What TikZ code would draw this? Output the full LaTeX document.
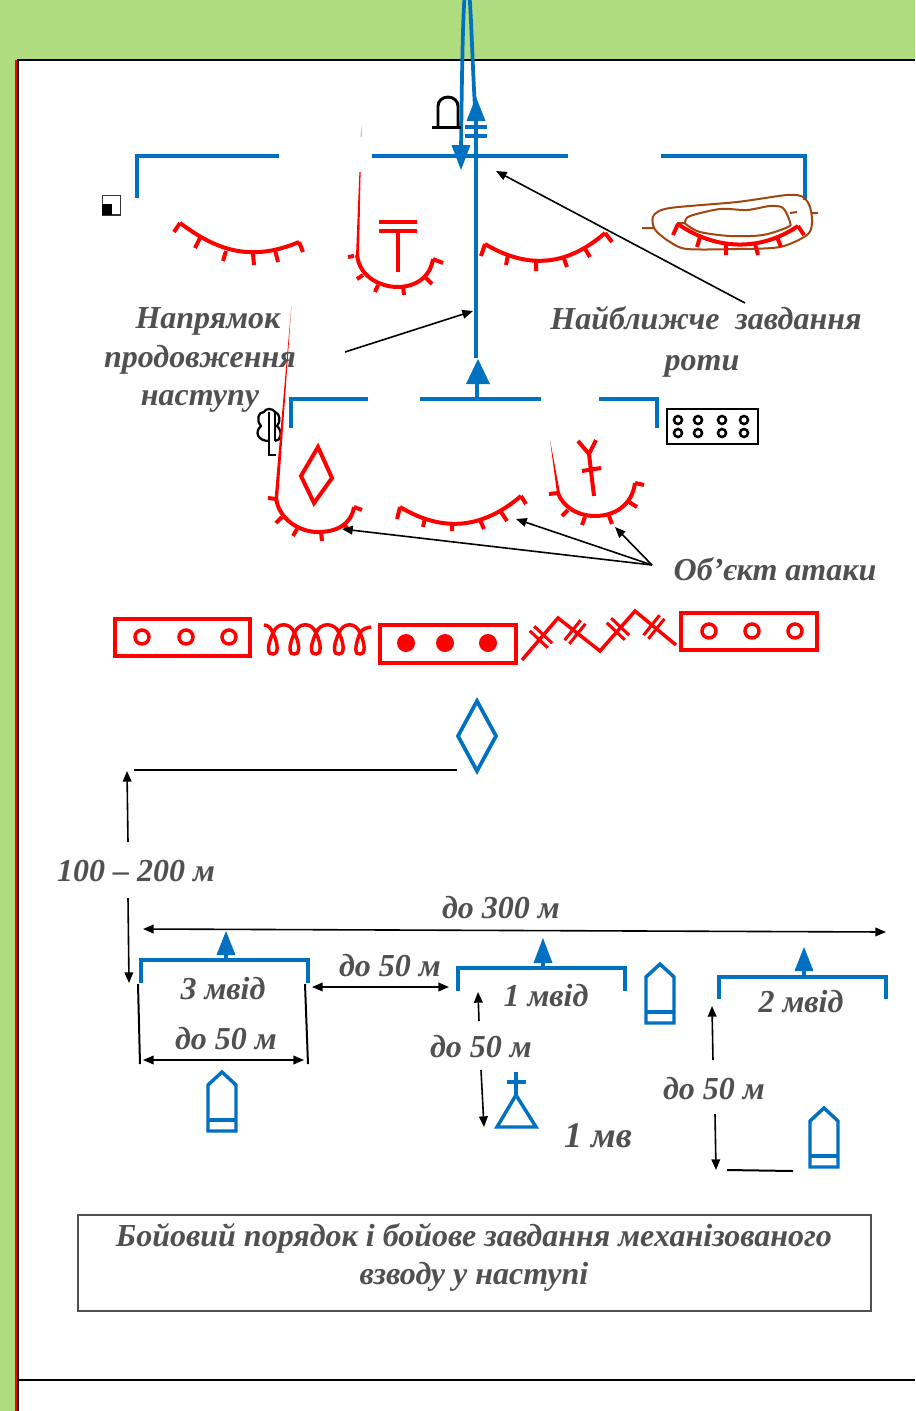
\documentclass[tikz,border=0pt]{standalone}
\usepackage{fontspec}
\setmainfont{Liberation Serif}
\usetikzlibrary{arrows.meta}
\definecolor{bg}{HTML}{AFDC7E}
\definecolor{bl}{HTML}{0070C0}
\definecolor{rd}{HTML}{FF0000}
\definecolor{br}{HTML}{A0460F}
\definecolor{tx}{HTML}{505050}
\tikzset{
 blueln/.style={draw=bl,line width=2.8pt},
 blueth/.style={draw=bl,line width=2.6pt},
 redln/.style={draw=rd,line width=3pt},
 redth/.style={draw=rd,line width=2.6pt},
 blk/.style={draw=black,line width=1.5pt},
 blkar/.style={draw=black,line width=1.2pt,-{Triangle[length=8pt,width=6.5pt]}},
 blkbi/.style={draw=black,line width=1.2pt,{Triangle[length=8pt,width=6.5pt]}-{Triangle[length=8pt,width=6.5pt]}},
 brownln/.style={draw=br,line width=1.5pt},
 lbl/.style={text=tx,font=\fontsize{24}{28}\selectfont\bfseries\itshape,inner sep=0pt,align=center,text height=16pt,text depth=5pt,yshift=-2.6pt},
 tipfill/.style={fill=bl,draw=none},
}
\newcommand{\uparr}[3]{% x, tip y, base y
  \fill[tipfill] (#1,#2) -- (#1+9.5,#3) -- (#1-9.5,#3) -- cycle;
}
\newcommand{\bul}[4]{% x centre, apex, shoulder, bar
  \draw[blueth,line join=miter] (#1-14,#3) -- (#1,#2) -- (#1+14,#3) -- (#1+14,#2+59) -- (#1-14,#2+59) -- cycle;
  \draw[blueth] (#1-14,#4) -- (#1+14,#4);
}
\newcommand{\bcross}[6]{%
  \draw[draw=rd,line width=2.3pt] (#1+#5-#3,#2+#6-#4) -- (#1+#5+#3,#2+#6+#4);
  \draw[draw=rd,line width=2.3pt] (#1-#5-#3,#2-#6-#4) -- (#1-#5+#3,#2-#6+#4);
}
\begin{document}
\begin{tikzpicture}[x=0.75pt,y=-0.75pt]
\useasboundingbox (0,0) rectangle (915,1411);
\clip (0,0) rectangle (915,1411);
% background
\fill[bg] (0,0) rectangle (915,1411);
\fill[white] (18,60) rectangle (915,1411);
\fill[rd] (15,60) rectangle (18,1411);
\draw[black,line width=1.5pt] (18,1411) -- (18,60) -- (915,60);
\draw[black,line width=1.5pt] (18,1380) -- (915,1380);
% top brackets
\draw[blueln,line join=miter] (137,198) -- (137,156) -- (279,156);
\draw[blueln] (372,156) -- (568,156);
\draw[blueln,line join=miter] (661,156) -- (805,156) -- (805,200);
% main axis and loop
\draw[blueln] (476,358) -- (476,122);
\draw[blueln] (461,150) .. controls (462,70) and (463,-18) .. (467,-18) .. controls (471,-18) and (472,70) .. (476,122);
\uparr{476}{97}{121}
\fill[tipfill] (461,170) -- (470.5,145) -- (451.5,145) -- cycle;
\draw[blueln] (465,127) -- (487,127) (465,136) -- (487,136);
% bunker
\draw[draw=black,line width=2.2pt] (438,127) -- (438,106) arc[start angle=180,end angle=360,x radius=10,y radius=9] -- (458,127);
\draw[draw=black,line width=2.4pt] (432,127.5) -- (461,127.5);
% small square
\draw[draw=black!80,line width=1.2pt] (102.5,195.5) rectangle (120.5,215);
\fill[black] (102,204) rectangle (112,215);
% red trench 1
\draw[redln] (180,223) .. controls (210,245) and (245,265) .. (299,242);
\draw[redln] (180,223) -- (174,232) (200,238) -- (195,248) (226,251) -- (223,261) (253,254) -- (254,265) (275,250) -- (278,262) (299,242) -- (303,252);
% red trench 2 (U)
\fill[rd,opacity=.35] (361.5,125) -- (362,137) -- (360.5,137) -- cycle;
\fill[rd] (360.6,172) -- (359,256) -- (356,256) -- (359.4,172) -- cycle;
\draw[redln] (357,255) .. controls (360,280) and (385,287) .. (397,287) .. controls (415,287) and (430,278) .. (433,259);
\draw[redln] (348,257) -- (354,256) (363,275) -- (357,279) (378,285) -- (375,292) (403,286) -- (404,295) (425,277) -- (432,284) (433,259) -- (443,263);
\draw[redln] (379,222) -- (417,222) (379,231) -- (417,231) (398,231) -- (398,272);
% red trench 3
\draw[redln] (485,244) .. controls (525,268) and (565,268) .. (605,233);
\draw[redln] (485,244) -- (481,256) (508,255) -- (506,265) (536,260) -- (536,271) (563,256) -- (567,267) (584,247) -- (590,257) (605,233) -- (612,242);
% hill
\draw[brownln] plot[smooth cycle,tension=.5] coordinates {(654,215) (670,208) (737,202) (787,195) (803,197) (810,207) (812,223) (807,235) (780,247) (737,249) (687,249) (670,242) (657,232) (653,225)};
\draw[brownln] plot[smooth cycle,tension=.5] coordinates {(685,222) (690,216) (720,209) (747,210) (770,206) (783,208) (790,222) (788,227) (763,235) (730,236) (700,232) (687,225)};
\draw[brownln] (642,228) -- (654,228) (812,213) -- (818,213) (790,213) -- (797,212) (677,223) -- (686,223);
\draw[redln] (678,224) .. controls (715,250) and (760,252) .. (798,226);
\draw[redln] (678,224) -- (673,235) (700,237) -- (697,247) (726,244) -- (726,255) (755,244) -- (758,255) (777,237) -- (781,247) (798,226) -- (804,235);
% second brackets
\draw[blueln,line join=miter] (291,428) -- (291,399) -- (368,399);
\draw[blueln] (420,399) -- (541,399);
\draw[blueln,line join=miter] (599,399) -- (657,399) -- (657,428);
\draw[blueln] (477,399) -- (477,384);
\fill[tipfill] (478,359) -- (490,384) -- (466,384) -- cycle;
% tree
\draw[draw=black,line width=1.7pt,line join=round] (269,441) .. controls (258,441) and (254,432) .. (261,426) .. controls (256,420) and (258,412) .. (264,412) .. controls (265,408) and (273,408) .. (275,412) .. controls (280,413) and (281,422) .. (277,426) .. controls (283,431) and (281,441) .. (275,441);
\draw[draw=black,line width=1.6pt] (269,412) -- (269,455) -- (276,455) (275,412) -- (275,441);
% box with 8 circles
\draw[draw=black,line width=2.2pt] (667,409) rectangle (758,444);
\foreach \xx in {678,698,722,744}{\foreach \yy in {420,433}{\draw[draw=black,line width=1.9pt] (\xx,\yy) circle[radius=4];}}
% red U left
\fill[rd] (291.5,305) -- (278,500) -- (274.5,500) -- cycle;
\draw[redln] (276,498) .. controls (279,520) and (300,532) .. (318,532) .. controls (336,532) and (351,525) .. (354,507);
\draw[redln] (268,498) -- (276,499) (282,517) -- (276,523) (297,529) -- (293,536) (321,532) -- (322,541) (344,525) -- (350,531) (354,507) -- (362,510);
\draw[redln,line join=miter] (318,447) -- (332,478) -- (314,503) -- (301,476) -- cycle;
% red middle
\draw[redln] (400,507) .. controls (440,531) and (480,531) .. (521,496);
\draw[redln] (400,507) -- (397,519) (425,518) -- (423,527) (452,524) -- (452,531) (480,520) -- (484,529) (501,512) -- (507,521) (521,496) -- (526,504);
% red U right
\fill[rd] (550,440) -- (560,493) -- (557,493) -- cycle;
\draw[redln] (558,493) .. controls (563,507) and (578,516) .. (595,516) .. controls (615,516) and (632,505) .. (635,483);
\draw[redln] (549,494) -- (558,493) (568,510) -- (562,516) (585,517) -- (582,525) (609,516) -- (612,524) (629,502) -- (637,507) (635,483) -- (644,485);
\draw[redln] (578,441) -- (589,454) -- (596,440) (589,454) -- (594,496) (582,471) -- (601,468);
% arrows to objects
\node[lbl] (obj) at (775,570) {Об’єкт атаки};
\coordinate (objfoot) at (652,565);
\coordinate (objA) at (342,529);
\coordinate (objB) at (516,519);
\coordinate (objC) at (615,527);
\draw[blkar] (objfoot) -- (objA);
\draw[blkar] (objfoot) -- (objB);
\draw[blkar] (objfoot) -- (objC);
% labels upper
\node[lbl] (nap1) at (208,318) {Напрямок};
\node[lbl] (nap2) at (200,357) {продовження};
\node[lbl] (nap3) at (200,395) {наступу};
\node[lbl] (naj1) at (706,319) {Найближче\ \ завдання};
\node[lbl] (naj2) at (702,360) {роти};
\coordinate (a1s) at (345,352); \coordinate (a1e) at (473,311);
\coordinate (a2s) at (745,303); \coordinate (a2e) at (496,171);
\draw[blkar] (a1s) -- (a1e);
\draw[blkar] (a2s) -- (a2e);
% obstacle row
\draw[redln] (115,619) rectangle (250,656);
\foreach \xx in {142,186,229}{\draw[redth] (\xx,637) ellipse[x radius=7,y radius=7];}
\draw[redth] (264,625) .. controls (268,625) and (271,628) .. (273,633);
\foreach \cc/\nn in {273/294.5,294.5/316,316/339,339/360}{
 \draw[redth] (\cc,633) .. controls (\cc-7,648) and (\cc-5,655) .. (\cc,654) .. controls (\cc+5,655) and (\cc+6,645) .. (\cc,633) .. controls (\cc+4,622) and (\nn-4,622) .. (\nn,633);
}
\draw[redth] (360,633) .. controls (354,648) and (355,655) .. (360,654) .. controls (365,655) and (366,645) .. (360,633) .. controls (362,629) and (366,628) .. (371,627);
\draw[redln] (380,625) rectangle (516,663);
\foreach \xx in {406,445,488}{\fill[rd] (\xx,643) ellipse[x radius=9,y radius=9];}
\draw[draw=rd,line width=2.6pt,line join=miter] (522,660) -- (558,618) -- (600,651) -- (635,611) -- (676,645);
\bcross{541}{637}{9}{8.5}{2.2}{-2.3}
\bcross{575}{632}{8}{-10}{2.4}{1.8}
\bcross{618}{629}{9}{8.5}{2.2}{-2.3}
\bcross{654}{627}{8}{-10}{2.4}{1.8}
\draw[redln] (681,613) rectangle (817,650);
\foreach \xx in {709,752,795}{\draw[redth] (\xx,631) ellipse[x radius=7,y radius=7];}
% diamond
\draw[blueln,line join=miter] (477,701) -- (496,736) -- (477,771) -- (458,736) -- cycle;
\coordinate (ln1s) at (134,770); \coordinate (ln1e) at (457,770);
\draw[blk] (ln1s) -- (ln1e);
\node[lbl] (d100) at (136,871) {100 – 200 м};
\coordinate (d1a) at (128,842); \coordinate (d1b) at (127,771);
\coordinate (d2a) at (128,898); \coordinate (d2b) at (129,983);
\draw[blkar] (d1a) -- (d1b);
\draw[blkar] (d2a) -- (d2b);
\node[lbl] (d300) at (501,908) {до 300 м};
\coordinate (d3a) at (143,929); \coordinate (d3b) at (886,932);
\draw[blkbi] (d3a) -- (d3b);
% squads
\draw[blueln,line join=miter] (141,983) -- (141,960) -- (308,960) -- (308,983);
\draw[blueln] (226,960) -- (226,950);
\uparr{226}{931}{955}
\draw[blueln,line join=miter] (458,991) -- (458,968) -- (625,968) -- (625,991);
\draw[blueln] (543,968) -- (543,960);
\uparr{543}{938}{963}
\draw[blueln,line join=miter] (719,999) -- (719,977) -- (886,977) -- (886,999);
\draw[blueln] (804,977) -- (804,968);
\uparr{804}{947}{971}
\coordinate (v1a) at (138,984); \coordinate (v1b) at (140,1064);
\coordinate (v2a) at (305,984); \coordinate (v2b) at (308,1064);
\draw[blk] (v1a) -- (v1b);
\draw[blk] (v2a) -- (v2b);
\coordinate (h1a) at (143,1060); \coordinate (h1b) at (304,1060);
\draw[blkbi] (h1a) -- (h1b);
\coordinate (h2a) at (312,987); \coordinate (h2b) at (449,987);
\draw[blkbi] (h2a) -- (h2b);
\node[lbl] (m3) at (223,989) {3 мвід};
\node[lbl] (d50a) at (226,1039) {до 50 м};
\node[lbl] (d50b) at (390,966) {до 50 м};
\node[lbl] (m1) at (546,996) {1 мвід};
\node[lbl] (d50c) at (481,1047) {до 50 м};
\node[lbl] (m2) at (801,1002) {2 мвід};
\node[lbl] (d50d) at (714,1089) {до 50 м};
\node[lbl,font=\fontsize{27}{30}\selectfont\bfseries\itshape] (mv) at (598,1137) {1 мв};
\coordinate (u1a) at (479,1021); \coordinate (u1b) at (478,992);
\coordinate (u2a) at (481,1070); \coordinate (u2b) at (484,1127);
\draw[blkar] (u1a) -- (u1b);
\draw[blkar] (u2a) -- (u2b);
\coordinate (w1a) at (713,1060); \coordinate (w1b) at (712,1006);
\coordinate (w2a) at (715,1114); \coordinate (w2b) at (716,1170);
\draw[blkar] (w1a) -- (w1b);
\draw[blkar] (w2a) -- (w2b);
\coordinate (w3a) at (727,1170); \coordinate (w3b) at (793,1171);
\draw[blk] (w3a) -- (w3b);
% bullets and church
\bul{222}{1072}{1085}{1120}
\bul{660}{964}{977}{1012}
\bul{824}{1108}{1121}{1156}
\draw[blueth,line join=miter] (516,1095) -- (536,1127) -- (497,1127) -- cycle;
\draw[blueth] (516,1072) -- (516,1095) (507,1082) -- (526,1082);
% title
\draw[draw=tx,line width=1.9pt] (78,1215) rectangle (871,1311);
\node[lbl] (t1) at (474,1236) {Бойовий порядок і бойове завдання механізованого};
\node[lbl] (t2) at (474,1274) {взводу у наступі};
\end{tikzpicture}
\end{document}
